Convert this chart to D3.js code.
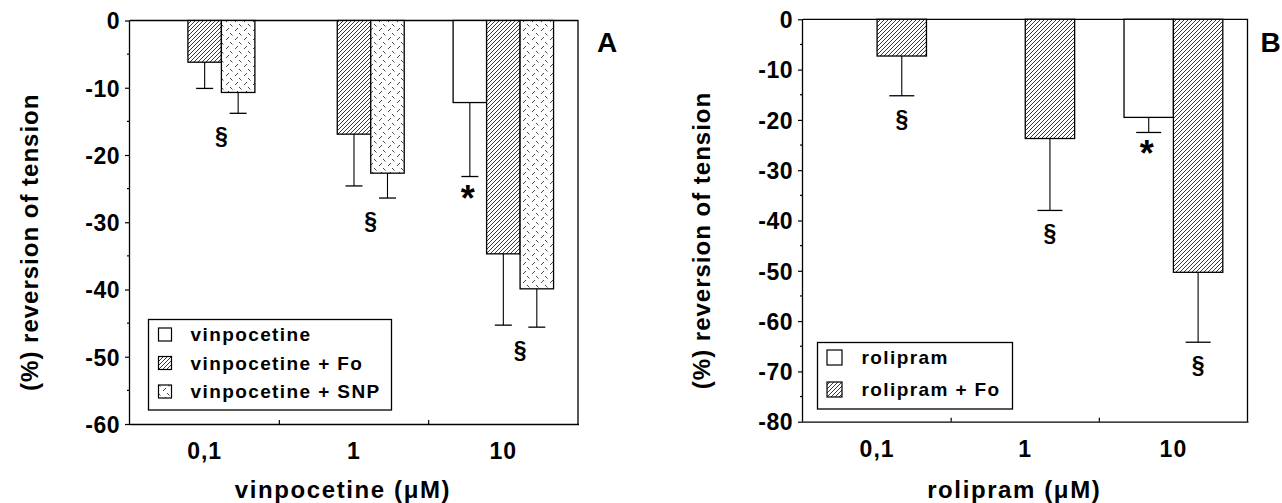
<!DOCTYPE html>
<html>
<head>
<meta charset="utf-8">
<script src="https://cdn.jsdelivr.net/npm/d3@7/dist/d3.min.js"></script>
<style>
  html, body { margin: 0; padding: 0; background: #fff; }
  svg { display: block; }
  text { font-family: "Liberation Sans", Arial, Helvetica, sans-serif; font-weight: bold; fill: #000; }
</style>
</head>
<body>
<svg id="chart" width="1282" height="503"></svg>
<script>
// ---------- DATA ----------
// Panel A
const categoriesA = ["0,1", "1", "10"];
const seriesNamesA = ["vinpocetine", "vinpocetine + Fo", "vinpocetine + SNP"];
const vinpocetine = [0, 0, -12.2];
const vinpocetineErr = [0, 0, 11.0];
const vinpocetineFo = [-6.2, -16.9, -34.7];
const vinpocetineFoErr = [3.9, 7.7, 10.6];
const vinpocetineSNP = [-10.7, -22.7, -39.9];
const vinpocetineSNPErr = [3.1, 3.7, 5.7];
const yTicksA = [0, -10, -20, -30, -40, -50, -60];
// annotations: [category index, series index, symbol]
const marksA = [[0, 1.5, "§"], [1, 1.5, "§"], [2, 0, "*"], [2, 1.5, "§"]];

// Panel B
const categoriesB = ["0,1", "1", "10"];
const seriesNamesB = ["rolipram", "rolipram + Fo"];
const rolipram = [0, 0, -19.5];
const rolipramErr = [0, 0, 3.0];
const rolipramFo = [-7.3, -23.7, -50.3];
const rolipramFoErr = [7.9, 14.3, 13.9];
const yTicksB = [0, -10, -20, -30, -40, -50, -60, -70, -80];
const marksB = [[0, 1, "§"], [1, 1, "§"], [2, 0, "*"], [2, 1, "§"]];

// ---------- DRAW ----------
const svg = d3.select("#chart");
const defs = svg.append("defs");

// Hatch pattern (Fo)
const hatch = defs.append("pattern").attr("id", "hatch")
  .attr("patternUnits", "userSpaceOnUse").attr("width", 4).attr("height", 4);
hatch.append("rect").attr("width", 4).attr("height", 4).attr("fill", "#fff");
hatch.append("path").attr("d", "M-1,1 l2,-2 M0,4 l4,-4 M3,5 l2,-2")
  .attr("stroke", "#222").attr("stroke-width", 0.9);

// Sparse dash pattern (SNP)
const dash = defs.append("pattern").attr("id", "dash")
  .attr("patternUnits", "userSpaceOnUse").attr("width", 9).attr("height", 9);
dash.append("rect").attr("width", 9).attr("height", 9).attr("fill", "#fff");
dash.append("path").attr("d", "M1,4 l3,-3 M5,6 l2.5,2.5")
  .attr("stroke", "#333").attr("stroke-width", 0.9);

const fills = { plain: "#fff", hatch: "url(#hatch)", dash: "url(#dash)" };
const fmt = d => String(d); // plain hyphen-minus as in the reference

function panel(cfg) {
  const g = svg.append("g");
  const y = d3.scaleLinear().domain([cfg.yMin, 0]).range([cfg.bottom, cfg.top]);
  const x = d3.scaleBand().domain(cfg.categories).range([cfg.left, cfg.right]).paddingInner(0).paddingOuter(0);
  const inner = d3.scaleBand().domain(d3.range(cfg.series.length))
    .range([0, x.bandwidth()]).paddingInner(0).paddingOuter(cfg.outerPad);

  // frame (top + right)
  g.append("path")
    .attr("d", `M${cfg.left},${cfg.top} H${cfg.right} V${cfg.bottom}`)
    .attr("fill", "none").attr("stroke", "#000").attr("stroke-width", 1.3);

  // bars
  cfg.series.forEach((s, si) => {
    s.values.forEach((v, ci) => {
      if (!v) return;
      const bx = x(cfg.categories[ci]) + inner(si);
      g.append("rect")
        .attr("x", bx).attr("y", y(0))
        .attr("width", inner.bandwidth()).attr("height", y(v) - y(0))
        .attr("fill", fills[s.fill]).attr("stroke", "#000").attr("stroke-width", 1.3);
      const err = s.errors[ci];
      const cx = bx + inner.bandwidth() / 2;
      g.append("line").attr("x1", cx).attr("x2", cx).attr("y1", y(v)).attr("y2", y(v - err))
        .attr("stroke", "#000").attr("stroke-width", 1.1);
      g.append("line").attr("x1", cx - cfg.cap / 2).attr("x2", cx + cfg.cap / 2)
        .attr("y1", y(v - err)).attr("y2", y(v - err))
        .attr("stroke", "#000").attr("stroke-width", 1.3);
    });
  });

  // y axis
  const yAxis = d3.axisLeft(y).tickValues(cfg.yTicks).tickSize(5).tickPadding(5).tickFormat(fmt);
  const ya = g.append("g").attr("transform", `translate(${cfg.left},0)`).call(yAxis);
  ya.select(".domain").attr("stroke-width", 1.3).attr("d", `M-0.5,${cfg.top}V${cfg.bottom}`);
  ya.selectAll(".tick line").attr("stroke-width", 1.2);
  ya.selectAll(".tick text").style("font-size", "23px").style("letter-spacing", "0.5px")
    .attr("dy", "0.36em");
  // minor ticks
  const minor = d3.range(cfg.yMin + 5, 0, 10);
  g.selectAll(null).data(minor).enter().append("line")
    .attr("x1", cfg.left - 3).attr("x2", cfg.left).attr("y1", d => y(d)).attr("y2", d => y(d))
    .attr("stroke", "#000").attr("stroke-width", 1.2);

  // x axis
  const xa = g.append("g").attr("transform", `translate(0,${cfg.bottom})`)
    .call(d3.axisBottom(x).tickSize(0).tickPadding(19));
  xa.select(".domain").attr("stroke-width", 1.3).attr("d", `M${cfg.left},0.5H${cfg.right + 1}`);
  xa.selectAll(".tick text").style("font-size", "23px").style("letter-spacing", "1px");
  // inward ticks at category boundaries
  cfg.categories.slice(1).forEach(c => {
    g.append("line").attr("x1", x(c)).attr("x2", x(c)).attr("y1", cfg.bottom).attr("y2", cfg.bottom - 4)
      .attr("stroke", "#000").attr("stroke-width", 1.2);
  });

  // significance marks
  cfg.marks.forEach(([ci, si, sym]) => {
    const cx = x(cfg.categories[ci]) + inner(0) + inner.bandwidth() * (si + 0.5);
    let lows = [];
    cfg.series.forEach((s, k) => {
      if (Math.abs(k - si) <= 0.5 && s.values[ci]) lows.push(s.values[ci] - s.errors[ci]);
    });
    const low = d3.min(lows);
    if (sym === "*") {
      g.append("text").attr("x", cx - 2).attr("y", y(low) + 34)
        .attr("text-anchor", "middle").style("font-size", "36px").text(sym);
    } else {
      g.append("text").attr("x", cx).attr("y", y(low) + 31)
        .attr("text-anchor", "middle").style("font-size", "23px").text(sym);
    }
  });

  // axis titles
  g.append("text").attr("transform", `translate(${cfg.yTitleX},${(cfg.top + cfg.bottom) / 2 + 20}) rotate(-90)`)
    .attr("text-anchor", "middle").style("font-size", "24px").style("letter-spacing", "1px")
    .text("(%) reversion of tension");
  g.append("text").attr("x", (cfg.left + cfg.right) / 2 - 11).attr("y", 498)
    .attr("text-anchor", "middle").style("font-size", "24px").style("letter-spacing", "1.6px")
    .text(cfg.xTitle);

  // panel letter
  g.append("text").attr("x", cfg.right + cfg.letterDx).attr("y", 52)
    .style("font-size", "28px").text(cfg.letter);

  // legend
  const L = cfg.legend;
  g.append("rect").attr("x", L.x).attr("y", L.y).attr("width", L.w).attr("height", L.h)
    .attr("fill", "#fff").attr("stroke", "#000").attr("stroke-width", 1.3);
  cfg.series.forEach((s, i) => {
    const ry = L.y + L.first + i * L.step;
    g.append("rect").attr("x", L.x + L.sx).attr("y", ry - L.sw / 2).attr("width", L.sw).attr("height", L.sw)
      .attr("fill", fills[s.fill]).attr("stroke", "#000").attr("stroke-width", 1.2);
    g.append("text").attr("x", L.x + L.tx).attr("y", ry + 6.5)
      .style("font-size", "19px").style("letter-spacing", "1.4px").text(s.name);
  });
}

panel({
  left: 130, right: 578, top: 20.5, bottom: 424, yMin: -60,
  categories: categoriesA, yTicks: yTicksA, outerPad: 0.73, cap: 17,
  series: [
    { name: seriesNamesA[0], values: vinpocetine, errors: vinpocetineErr, fill: "plain" },
    { name: seriesNamesA[1], values: vinpocetineFo, errors: vinpocetineFoErr, fill: "hatch" },
    { name: seriesNamesA[2], values: vinpocetineSNP, errors: vinpocetineSNPErr, fill: "dash" }
  ],
  marks: marksA, yTitleX: 38, xTitle: "vinpocetine (\u03BCM)", letter: "A", letterDx: 19,
  legend: { x: 148.5, y: 319.5, w: 243, h: 90.5, first: 15, step: 28.5, sx: 10, sw: 13, tx: 42 }
});

panel({
  left: 803, right: 1247.5, top: 19.3, bottom: 421.7, yMin: -80,
  categories: categoriesB, yTicks: yTicksB, outerPad: 0.5, cap: 25,
  series: [
    { name: seriesNamesB[0], values: rolipram, errors: rolipramErr, fill: "plain" },
    { name: seriesNamesB[1], values: rolipramFo, errors: rolipramFoErr, fill: "hatch" }
  ],
  marks: marksB, yTitleX: 710, xTitle: "rolipram (\u03BCM)", letter: "B", letterDx: 13,
  legend: { x: 817.5, y: 342.5, w: 195, h: 66.5, first: 15, step: 32, sx: 9.5, sw: 15, tx: 44 }
});
</script>
</body>
</html>
